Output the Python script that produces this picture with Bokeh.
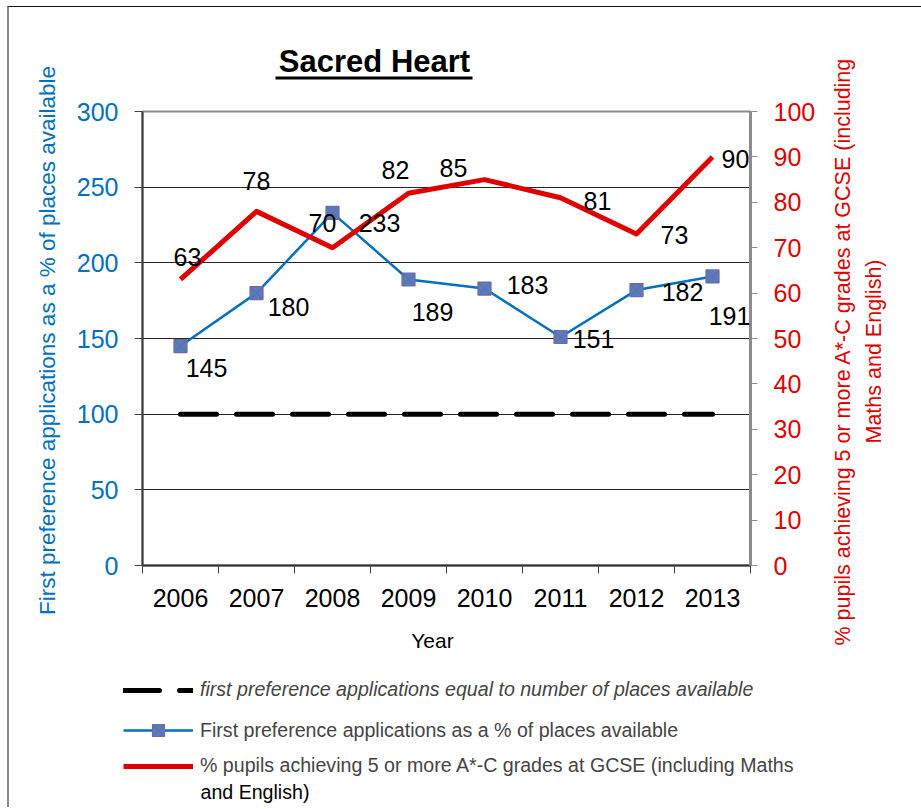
import math
from bokeh.plotting import figure
from bokeh.layouts import column, row
from bokeh.models import (Range1d, LinearAxis, FixedTicker, ColumnDataSource, LabelSet,
                          Label, Legend, LegendItem, BoxAnnotation)
from bokeh.core.properties import value
from bokeh.embed import file_html
from bokeh.resources import INLINE

# ---------------- data ----------------
years = ["2006", "2007", "2008", "2009", "2010", "2011", "2012", "2013"]
applications_pct = [145, 180, 233, 189, 183, 151, 182, 191]
gcse_pct = [63, 78, 70, 82, 85, 81, 73, 90]
places_equal = [100, 100, 100, 100, 100, 100, 100, 100]
left_ticks = [0, 50, 100, 150, 200, 250, 300]
right_ticks = [0, 10, 20, 30, 40, 50, 60, 70, 80, 90, 100]

# data-label offsets in pixels (dx right, dy down)
app_dx = [26, 32, 47, 24, 43, 33, 46, 17]
app_dy = [22, 14, 10, 33, -4, 2, 2, 40]
gcse_dx = [7, 0, -10, -13, -31, 37, 38, 23]
gcse_dy = [-22, -30, -25, -23, -12, 3, 1, 2]

FONT = "Liberation Sans"
BLUE = "#0070C0"
RED = "#E00000"
MARK_FILL = "#4F81BD"
MARK_LINE = "#7466A8"

TITLE_TXT = "Sacred Heart"
LEFT_TITLE = "First preference applications as a % of places available"
RIGHT_TITLE = "% pupils achieving 5 or more A*-C grades at GCSE (including\nMaths and English)"
X_TITLE = "Year"
LEG_DASH = "first preference applications equal to number of places available"
LEG_BLUE = "First preference applications as a % of places available"
LEG_RED_1 = "% pupils achieving 5 or more A*-C grades at GCSE (including Maths"
LEG_RED_2 = "and English)"

xpos = [i + 0.5 for i in range(len(years))]

W_LEFT, W_MID, W_RIGHT = 60, 761, 91
H_TITLE, H_MAIN, H_LEG = 88, 525, 187
H_ALL = H_TITLE + H_MAIN + H_LEG


def blank_fig(w, h):
    f = figure(width=w, height=h, x_range=Range1d(0, w), y_range=Range1d(h, 0),
               output_backend="svg", toolbar_location=None,
               min_border=0, min_border_left=0, min_border_right=0,
               min_border_top=0, min_border_bottom=0)
    f.axis.visible = False
    f.grid.visible = False
    f.outline_line_color = None
    f.background_fill_color = "white"
    f.border_fill_color = "white"
    return f


# ---------------- left strip: left axis title ----------------
pleft = blank_fig(W_LEFT, H_ALL)
pleft.add_layout(Label(x=38, y=333, text=LEFT_TITLE, angle=math.pi / 2, text_font=FONT,
                       text_font_size="22.5px", text_align="center", text_baseline="middle",
                       text_color=BLUE))

# ---------------- title strip ----------------
pt = blank_fig(W_MID, H_TITLE)
pt.add_layout(Label(x=305, y=54, text=TITLE_TXT, text_font=FONT, text_font_style="bold",
                    text_font_size="31px", text_align="center", text_baseline="middle",
                    text_color="black"))
pt.add_layout(BoxAnnotation(left=206, right=403, top=69, bottom=72, fill_color="black",
                            fill_alpha=1, line_color=None))

# ---------------- main chart ----------------
p = figure(width=W_MID, height=H_MAIN, x_range=Range1d(0, len(years)), y_range=Range1d(0, 300),
           output_backend="svg", toolbar_location=None,
           min_border_left=73, min_border_right=W_MID - 73 - 608,
           min_border_top=16, min_border_bottom=H_MAIN - 16 - 454)
p.extra_y_ranges = {"pct": Range1d(0, 100)}
p.outline_line_color = "#8c8c8c"
p.outline_line_width = 2
p.background_fill_color = "white"
p.border_fill_color = "white"

p.xgrid.grid_line_color = None
p.ygrid.ticker = FixedTicker(ticks=left_ticks[1:-1])
p.ygrid.grid_line_color = "#262626"
p.ygrid.grid_line_width = 1

ya = p.yaxis[0]
ya.ticker = FixedTicker(ticks=left_ticks)
ya.major_label_text_color = BLUE
ya.major_label_text_font = FONT
ya.major_label_text_font_size = "25px"
ya.major_tick_out = 8
ya.major_tick_in = 0
ya.major_tick_line_color = "#404040"
ya.minor_tick_line_color = None
ya.axis_line_color = "#404040"
ya.axis_line_width = 2
ya.major_label_standoff = 16

xa = p.xaxis[0]
xa.ticker = FixedTicker(ticks=xpos, minor_ticks=list(range(len(years) + 1)))
xa.major_label_overrides = {xv: yr for xv, yr in zip(xpos, years)}
xa.major_tick_out = 0
xa.major_tick_in = 0
xa.minor_tick_out = 8
xa.minor_tick_in = 0
xa.minor_tick_line_color = "#404040"
xa.axis_line_color = "#303030"
xa.axis_line_width = 2
xa.major_label_text_font = FONT
xa.major_label_text_font_size = "25px"
xa.major_label_text_color = "black"
xa.major_label_standoff = 15

ra = LinearAxis(y_range_name="pct", ticker=FixedTicker(ticks=right_ticks))
ra.axis_line_color = "#8c8c8c"
ra.axis_line_width = 3
ra.major_tick_out = 7
ra.major_tick_in = 0
ra.major_tick_line_color = "#8c8c8c"
ra.minor_tick_line_color = None
ra.major_label_text_color = RED
ra.major_label_text_font = FONT
ra.major_label_text_font_size = "25px"
ra.major_label_standoff = 16
p.add_layout(ra, "right")

dash_style = dict(line_color="black", line_width=5, line_dash="36 20", line_cap="round")
blue_style = dict(line_color=BLUE, line_width=2.5)
mark_style = dict(marker="square_x", size=13, fill_color=MARK_FILL, line_color=MARK_LINE,
                  line_width=1.2)
red_style = dict(line_color=RED, line_width=5, line_join="round")

p.line(xpos, places_equal, **dash_style)
p.line(xpos, applications_pct, **blue_style)
p.scatter(xpos, applications_pct, **mark_style)
p.line(xpos, gcse_pct, y_range_name="pct", **red_style)

src_a = ColumnDataSource(dict(x=xpos, y=applications_pct, t=[str(v) for v in applications_pct],
                              dx=app_dx, dy=[-d for d in app_dy]))
src_g = ColumnDataSource(dict(x=xpos, y=gcse_pct, t=[str(v) for v in gcse_pct],
                              dx=gcse_dx, dy=[-d for d in gcse_dy]))
p.add_layout(LabelSet(x="x", y="y", text="t", source=src_a, x_offset="dx", y_offset="dy",
                      text_align="center", text_baseline="middle", text_font=value(FONT),
                      text_font_size=value("25px"), text_color="black"))
p.add_layout(LabelSet(x="x", y="y", text="t", source=src_g, x_offset="dx", y_offset="dy",
                      y_range_name="pct", text_align="center", text_baseline="middle",
                      text_font=value(FONT), text_font_size=value("25px"), text_color="black"))

# ---------------- legend strip ----------------
pl = blank_fig(W_MID, H_LEG)
# the series are re-plotted on an off-screen range so the legend has real renderers
pl.extra_y_ranges = {"off": Range1d(-2000, -1000)}
r_dash = pl.line(xpos, places_equal, y_range_name="off", **dash_style)
r_blue = pl.line(xpos, applications_pct, y_range_name="off", **blue_style)
r_mark = pl.scatter(xpos, applications_pct, y_range_name="off", **mark_style)
r_red = pl.line(xpos, gcse_pct, y_range_name="off", **red_style)

common = dict(margin=0, padding=0, border_line_alpha=0, background_fill_alpha=0,
              glyph_width=70, label_standoff=7, label_text_font=FONT,
              label_text_font_size="19.6px", spacing=0)
legA = Legend(items=[LegendItem(label=LEG_DASH, renderers=[r_dash])],
              location=(54, 106), glyph_height=20, label_height=20,
              label_text_font_style="italic", **common)
legB = Legend(items=[LegendItem(label=LEG_BLUE, renderers=[r_blue, r_mark])],
              location=(54, 62), glyph_height=30, label_height=30, **common)
legC = Legend(items=[LegendItem(label=LEG_RED_1, renderers=[r_red])],
              location=(54, 30), glyph_height=20, label_height=20, **common)
pl.add_layout(legA)
pl.add_layout(legB)
pl.add_layout(legC)
pl.add_layout(Label(x=131, y=171, text=LEG_RED_2, text_font=FONT, text_font_size="19.6px",
                    text_align="left", text_baseline="middle", text_color="black"))
pl.add_layout(Label(x=363, y=20, text=X_TITLE, text_font=FONT, text_font_size="21px",
                    text_align="center", text_baseline="middle", text_color="black"))

# ---------------- right strip: right axis title ----------------
pr = blank_fig(W_RIGHT, H_ALL)
pr.add_layout(Label(x=28, y=344, text=RIGHT_TITLE, angle=math.pi / 2, text_font=FONT,
                    text_font_size="21.5px", text_align="center", text_baseline="middle",
                    text_color=RED, text_line_height=1.3))

middle = column(pt, row(p, spacing=0), pl, spacing=0)
layout = row(pleft, middle, pr, spacing=0,
             styles={"margin-left": "7px", "margin-top": "6px",
                     "border-top": "1px solid #111111", "border-left": "2px solid #8a8a8a"})

open("out.html", "w").write(file_html(layout, INLINE))
